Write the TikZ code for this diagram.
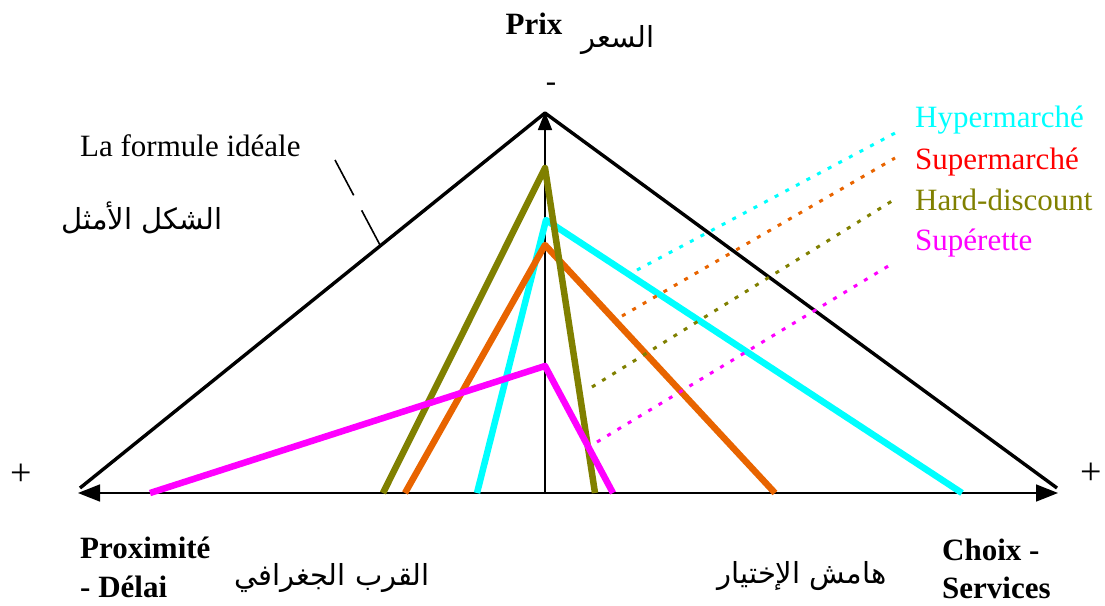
\documentclass[tikz,border=0pt]{standalone}
\usepackage{fontspec}
\setmainfont{Liberation Serif}
\newfontfamily\arabicfont[Script=Arabic]{DejaVu Sans}
\TeXXeTstate=1
\usetikzlibrary{arrows.meta}
\definecolor{hypc}{RGB}{0,255,255}
\definecolor{supc}{RGB}{232,100,0}
\definecolor{supt}{RGB}{255,0,0}
\definecolor{hardc}{RGB}{128,128,0}
\definecolor{supec}{RGB}{255,0,255}
\tikzset{
  axisline/.style={line width=1.6pt},
  bigtri/.style={line width=3.4pt, line join=round},
  shopline/.style={line width=6.5pt, line join=round, line cap=butt},
  dotline/.style={line width=3pt, dash pattern=on 4pt off 8pt},
  lbl/.style={inner sep=0pt, font=\fontsize{31}{36}\selectfont},
  blbl/.style={inner sep=0pt, font=\fontsize{31}{36}\selectfont\bfseries},
  albl/.style={inner sep=0pt, font=\fontsize{29}{34}\selectfont\arabicfont},
  plbl/.style={inner sep=0pt, font=\fontsize{38}{40}\selectfont},
}
\begin{document}
\begin{tikzpicture}[x=1pt,y=-1pt]
\useasboundingbox (0,0) rectangle (1105,605);
% axes
\coordinate (O) at (545,493);
\coordinate (L) at (78,493);
\coordinate (R) at (1058,493);
\coordinate (T) at (545,112);
\draw[axisline,-{Triangle[length=22pt,width=17pt]}] (O) -- (L);
\draw[axisline,-{Triangle[length=22pt,width=17pt]}] (O) -- (R);
\draw[axisline,-{Triangle[length=18pt,width=14pt]}] (O) -- (T);
% ideal triangle
\coordinate (TL) at (80,488);
\coordinate (TA) at (545,113);
\coordinate (TR) at (1057,488);
\draw[bigtri] (TL) -- (TA) -- (TR);
% shop formats
\coordinate (hL) at (477,493); \coordinate (hA) at (546,220); \coordinate (hR) at (962,493);
\coordinate (sL) at (405,493); \coordinate (sA) at (545,245); \coordinate (sR) at (775,493);
\coordinate (dL) at (383,493); \coordinate (dA) at (545,168); \coordinate (dR) at (595,493);
\coordinate (eL) at (150,493); \coordinate (eA) at (545,366); \coordinate (eR) at (613,493);
\draw[shopline,hypc] (hL) -- (hA) -- (hR);
\draw[shopline,supc] (sL) -- (sA) -- (sR);
\draw[shopline,hardc] (dL) -- (dA) -- (dR);
\draw[shopline,supec] (eL) -- (eA) -- (eR);
% legend
\node[lbl,anchor=base west,text=hypc] (lh) at (915,127) {Hypermarché};
\node[lbl,anchor=base west,text=supt] (ls) at (915,169) {Supermarché};
\node[lbl,anchor=base west,text=hardc] (ld) at (915,210) {Hard-discount};
\node[lbl,anchor=base west,text=supec] (le) at (915,250) {Supérette};
\coordinate (h1) at (637,270); \coordinate (h2) at (897,132);
\coordinate (s1) at (622,316); \coordinate (s2) at (895,158);
\coordinate (d1) at (592,387); \coordinate (d2) at (892,201);
\coordinate (e1) at (597,442); \coordinate (e2) at (890,265);
\draw[dotline,hypc] (h1) -- (h2);
\draw[dotline,supc] (s1) -- (s2);
\draw[dotline,hardc] (d1) -- (d2);
\draw[dotline,supec] (e1) -- (e2);
% top labels
\node[blbl] (prix) at (534,24) {Prix};
\node[albl] (prixar) at (618,40) {\beginR السعر\endR};
\node[lbl] (minus) at (551,87) {-};
% ideal formula
\node[lbl,anchor=base west] (ideal) at (80,156) {La formule idéale};
\node[albl] (idealar) at (142,218) {\beginR الشكل الأمثل\endR};
\coordinate (ld1) at (335,160);
\coordinate (ld2) at (380,245);
\draw[line width=1.6pt, dash pattern=on 40pt off 17pt] (ld1) -- (ld2);
% plus signs
\node[plbl] (pl) at (21,475) {+};
\node[plbl] (pr) at (1091,474) {+};
% bottom labels
\node[blbl,anchor=base west] (prox1) at (80,558) {Proximité};
\node[blbl,anchor=base west] (prox2) at (80,597) {- Délai};
\node[albl] (proxar) at (332,578) {\beginR القرب الجغرافي\endR};
\node[blbl,anchor=base west] (ch1) at (942,560) {Choix -};
\node[blbl,anchor=base west] (ch2) at (942,598) {Services};
\node[albl] (char) at (802,576) {\beginR هامش الإختيار\endR};
\end{tikzpicture}
\end{document}
